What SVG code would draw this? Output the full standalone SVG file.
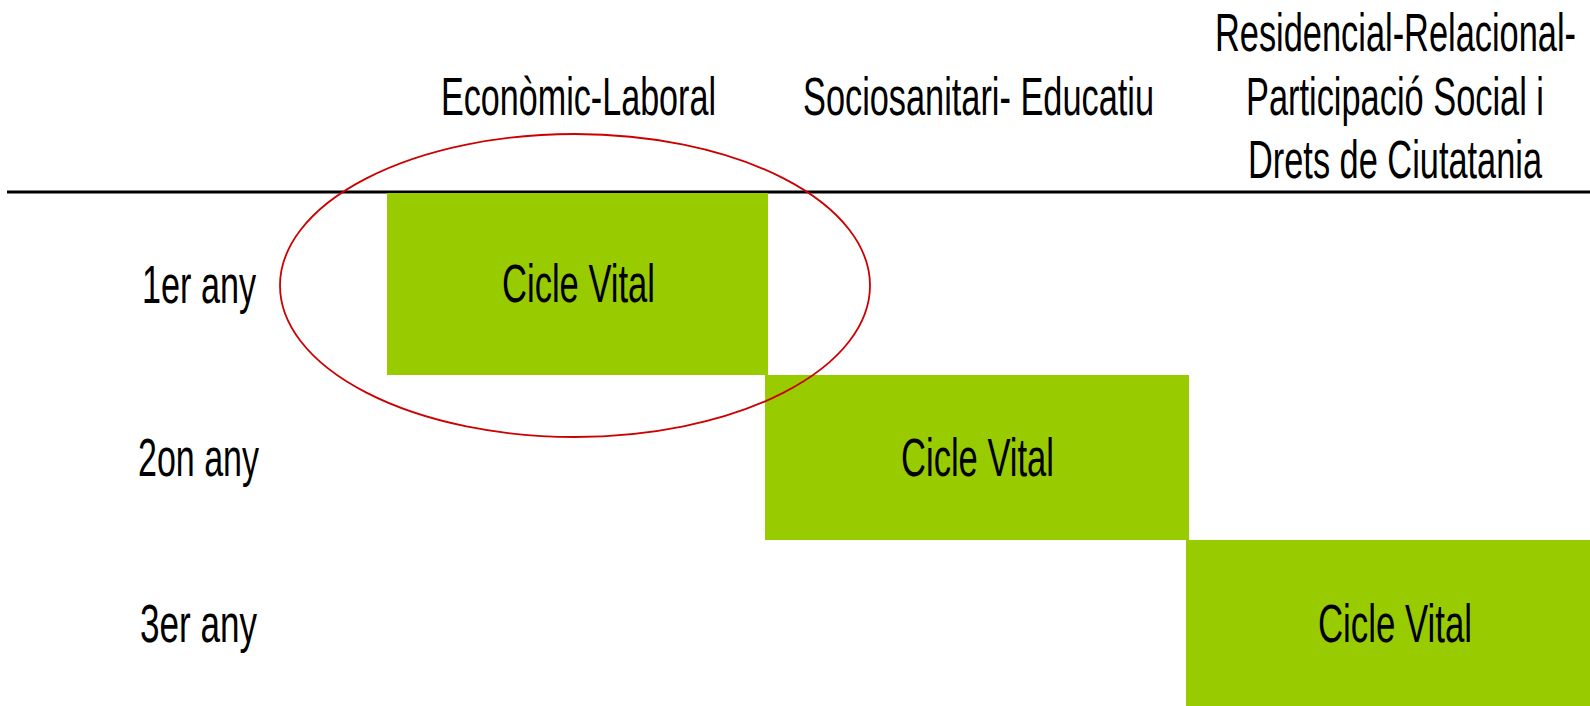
<svg xmlns="http://www.w3.org/2000/svg" width="1590" height="706" viewBox="0 0 1590 706">
<style>
text{font-family:"Liberation Sans",Arial,sans-serif;font-size:54px;fill:#000}
.cell{fill:#99CC00}
</style>
<rect x="0" y="0" width="1590" height="706" fill="#fff"/>
<g id="headers">
<text x="441" y="115" textLength="275" lengthAdjust="spacingAndGlyphs">Econòmic-Laboral</text>
<text x="803" y="115" textLength="351" lengthAdjust="spacingAndGlyphs">Sociosanitari- Educatiu</text>
<text x="1215" y="51" textLength="361" lengthAdjust="spacingAndGlyphs">Residencial-Relacional-</text>
<text x="1246" y="115" textLength="298" lengthAdjust="spacingAndGlyphs">Participació Social i</text>
<text x="1248" y="178" textLength="294" lengthAdjust="spacingAndGlyphs">Drets de Ciutatania</text>
</g>
<g id="rows">
<text x="142" y="303" textLength="114" lengthAdjust="spacingAndGlyphs">1er any</text>
<text x="138" y="476" textLength="121" lengthAdjust="spacingAndGlyphs">2on any</text>
<text x="140" y="642" textLength="117" lengthAdjust="spacingAndGlyphs">3er any</text>
</g>
<line x1="7" y1="192" x2="1590" y2="192" stroke="#000" stroke-width="3"/>
<g id="cell1">
<rect class="cell" x="387" y="193" width="381" height="182"/>
<text x="502" y="302" textLength="153" lengthAdjust="spacingAndGlyphs">Cicle Vital</text>
</g>
<g id="cell2">
<rect class="cell" x="765" y="375" width="424" height="165"/>
<text x="901" y="476" textLength="153" lengthAdjust="spacingAndGlyphs">Cicle Vital</text>
</g>
<g id="cell3">
<rect class="cell" x="1186" y="540" width="404" height="166"/>
<text x="1318" y="642" textLength="154" lengthAdjust="spacingAndGlyphs">Cicle Vital</text>
</g>
<g id="highlight">
<ellipse cx="575" cy="285.5" rx="295" ry="151.5" fill="none" stroke="#CC0000" stroke-width="1.8"/>
</g>
</svg>
